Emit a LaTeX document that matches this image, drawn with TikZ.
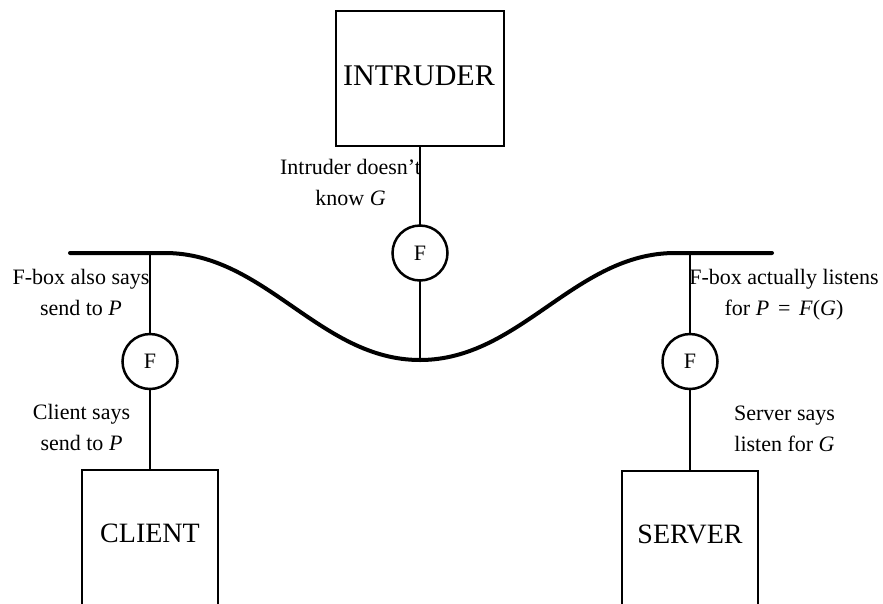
\documentclass[tikz,border=0pt]{standalone}
\usepackage{fontspec}
\setmainfont{Liberation Serif}
\begin{document}
\begin{tikzpicture}[x=1pt,y=-1pt,
  every node/.style={inner sep=0pt, outer sep=0pt},
  party/.style={draw, line width=2.5pt, minimum width=136pt, minimum height=160pt, anchor=north},
  bigname/.style={font=\fontsize{28}{32}\selectfont},
  fbox/.style={draw, circle, line width=2.5pt, minimum size=55pt, font=\fontsize{22}{26}\selectfont},
  note/.style={font=\fontsize{22}{31}\selectfont, align=center, anchor=base},
  wire/.style={line width=2.5pt},
  net/.style={line width=4pt, line cap=round},
]
\useasboundingbox (0,0) rectangle (883,603);
\clip (0,0) rectangle (883,603);

% the network path, with its three tap points
\coordinate (netL) at (70,253);
\coordinate (tapL) at (150,253);
\coordinate (tapM) at (420,360);
\coordinate (tapR) at (690,253);
\coordinate (netR) at (772,253);
\draw[net] (netL) -- (tapL) -- (165,253)
  .. controls (265,253) and (320,360) .. (tapM)
  .. controls (520,360) and (575,253) .. (675,253) -- (tapR) -- (netR);

% parties
\node[party, minimum width=168pt, minimum height=135pt] (intruder) at (420,11) {};
\node[party] (client) at (150,470) {};
\node[party] (server) at (690,471) {};
\node[bigname, font=\fontsize{30}{34}\selectfont] (intrudername) at (419,75.5) {INTRUDER};
\node[bigname] (clientname) at (150,533.5) {CLIENT};
\node[bigname] (servername) at (690,534.5) {SERVER};

% F-boxes
\node[fbox] (fI) at (420,253) {F};
\node[fbox] (fC) at (150,361.5) {F};
\node[fbox] (fS) at (690,361.5) {F};

% links
\draw[wire] (intruder) -- (fI);
\draw[wire] (fI) -- (tapM);
\draw[wire] (tapL) -- (fC);
\draw[wire] (fC) -- (client);
\draw[wire] (tapR) -- (fS);
\draw[wire] (fS) -- (server);

% annotations (anchored at the baseline of their last line)
\node[note] (intrudernote) at (350.5,205) {Intruder doesn't\\know \textit{G}};
\node[note] (fboxCnote) at (81,315) {F-box also says\\send to \textit{P}};
\node[note] (clientnote) at (81.5,450) {Client says\\send to \textit{P}};
\node[note] (fboxSnote) at (784,315) {F-box actually listens\\for \textit{P}\hspace{0.4em}=\hspace{0.4em}\textit{F}(\textit{G})};
\node[note] (servernote) at (784.5,451) {Server says\\listen for \textit{G}};
\end{tikzpicture}
\end{document}
